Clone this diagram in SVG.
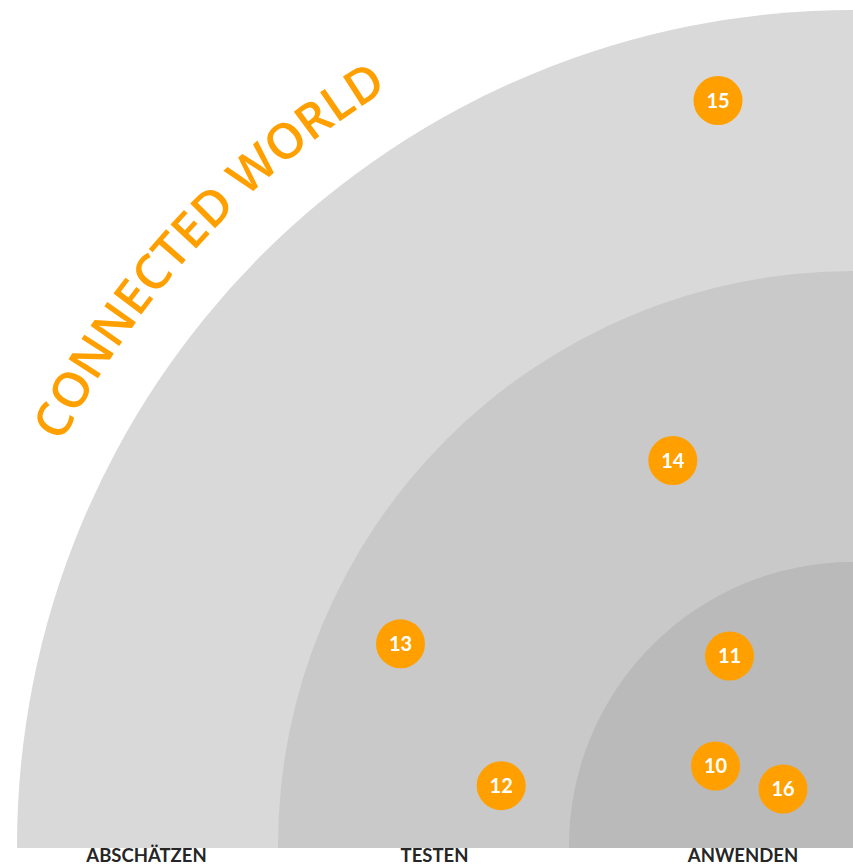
<svg xmlns="http://www.w3.org/2000/svg" width="853" height="865" viewBox="0 0 853 865">
<style>
.node circle{fill:#FFA000}
.node text{fill:#fff;font-family:Lato,"Open Sans",sans-serif;font-weight:bold;font-size:20px;text-anchor:middle}
.lbl{fill:#262626;font-family:Lato,"Open Sans",sans-serif;font-weight:bold;font-size:18.5px;text-anchor:middle}
.title{fill:#FFA000;font-family:"Open Sans",sans-serif;font-weight:600;font-size:49px}
</style>
<defs>
<path id="arc" d="M 61.8 442.8 A 888 888 0 0 1 549.3 11.5" fill="none"/>
</defs>
<rect width="853" height="865" fill="#fff"/>
<g id="rings">
<path d="M 17 848 L 17 846 A 836 836 0 0 1 853 10 L 853 848 Z" fill="#D9D9D9"/>
<path d="M 278 848 L 278 846 A 575 575 0 0 1 853 271 L 853 848 Z" fill="#C9C9C9"/>
<path d="M 569 848 L 569 846 A 284 284 0 0 1 853 562 L 853 848 Z" fill="#BABABA"/>
</g>
<text class="title"><textPath href="#arc">CONNECTED WORLD</textPath></text>
<g id="labels">
<text class="lbl" x="146.5" y="861.5">ABSCHÄTZEN</text>
<text class="lbl" x="434.5" y="861.5">TESTEN</text>
<text class="lbl" x="743" y="861.5">ANWENDEN</text>
</g>
<g id="connectors"></g>
<g id="n15" class="node"><circle cx="718" cy="100.5" r="24.5"/><text x="718" y="107.5">15</text></g>
<g id="n14" class="node"><circle cx="672.8" cy="460.5" r="24.5"/><text x="672.8" y="467.5">14</text></g>
<g id="n13" class="node"><circle cx="400.5" cy="643.8" r="24.5"/><text x="400.5" y="650.8">13</text></g>
<g id="n11" class="node"><circle cx="729.5" cy="656" r="24.5"/><text x="729.5" y="663">11</text></g>
<g id="n12" class="node"><circle cx="501.2" cy="785.7" r="24.5"/><text x="501.2" y="792.7">12</text></g>
<g id="n10" class="node"><circle cx="715.5" cy="766" r="24.5"/><text x="715.5" y="773">10</text></g>
<g id="n16" class="node"><circle cx="783" cy="789" r="24.5"/><text x="783" y="796">16</text></g>
</svg>
